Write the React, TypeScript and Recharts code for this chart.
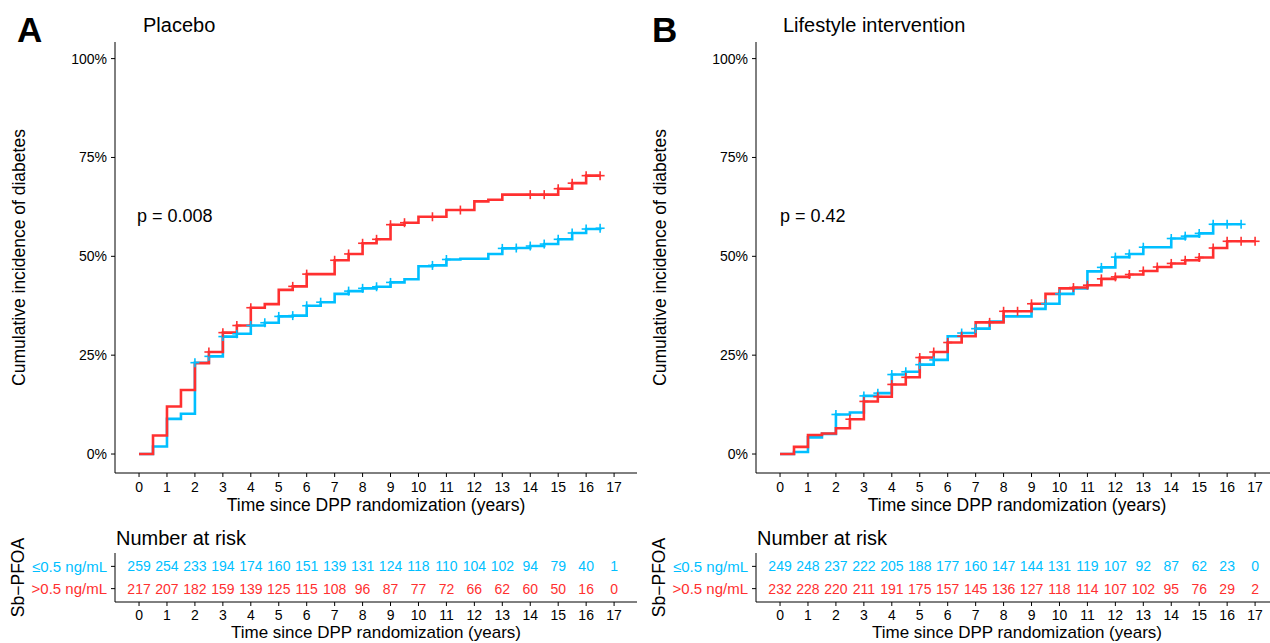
import React from "react";
import { ComposedChart, ScatterChart, Line, Scatter, XAxis, YAxis } from "recharts";

// step times (years) of the KM curves
const stepYears = [
  0, 0.5, 1, 1.5, 2, 2.5, 3, 3.5, 4, 4.5, 5, 5.5, 6, 6.5, 7, 7.5, 8, 8.5,
  9, 9.5, 10, 10.5, 11, 11.5, 12, 12.5, 13, 13.5, 14, 14.5, 15, 15.5, 16, 16.5, 17,
];
const yearTicks = [0, 1, 2, 3, 4, 5, 6, 7, 8, 9, 10, 11, 12, 13, 14, 15, 16, 17];
const pctTicks = [0, 25, 50, 75, 100];
const groupLabels = ["≤0.5 ng/mL", ">0.5 ng/mL"];

// cumulative incidence (%) at each step time
const placeboLow = [
  0, 1.9, 8.9, 10.2, 23.1, 24.7, 29.7, 30.4, 32.5, 33.2, 34.8, 35.0, 37.5, 38.4, 40.5, 41.2, 41.9,
  42.3, 43.4, 44.2, 47.5, 47.7, 49.2, 49.4, 49.4, 50.6, 52.0, 52.1, 52.6, 53.1, 54.3, 55.9, 56.9, 57.1,
];
const placeboHigh = [
  0, 4.7, 12.0, 16.2, 23.0, 25.8, 30.7, 32.5, 37.0, 37.9, 41.5, 42.4, 45.5, 45.5, 49.0, 50.6, 53.3,
  54.3, 58.0, 58.5, 60.0, 60.0, 61.7, 61.7, 63.9, 64.3, 65.6, 65.6, 65.6, 65.6, 67.1, 68.5, 70.4, 70.4,
];
const lifestyleLow = [
  0, 0.5, 4.2, 5.1, 10.0, 10.5, 14.7, 15.4, 20.1, 20.8, 22.6, 23.8, 29.8, 30.6, 31.7, 33.5, 34.8,
  34.8, 36.7, 38.0, 40.5, 41.9, 46.2, 47.2, 49.8, 50.6, 52.3, 52.3, 54.5, 55.1, 55.8, 58.1, 58.1, 58.1,
];
const lifestyleHigh = [
  0, 1.8, 4.8, 5.2, 6.5, 8.8, 13.3, 14.5, 17.6, 19.4, 24.4, 25.8, 28.2, 29.8, 33.3, 33.3, 36.1,
  36.1, 38.0, 40.5, 41.9, 42.1, 42.7, 44.3, 44.8, 45.4, 46.3, 47.3, 48.2, 49.0, 49.7, 52.1, 53.8,
  53.8, 53.8,
];

// censoring marks (years)
const placeboLowCensor = [2, 2.5, 3, 3.5, 4, 4.5, 5, 5.5, 6, 6.5, 7.5, 8, 8.5, 9, 10.5, 11, 13, 13.5, 14, 14.5, 15, 15.5, 16, 16.5];
const placeboHighCensor = [2.5, 3, 3.5, 4, 5.5, 6, 7, 7.5, 8, 8.5, 9, 9.5, 10.5, 11.5, 14, 14.5, 15, 15.5, 16, 16.5];
const lifestyleLowCensor = [2, 3, 3.5, 4, 4.5, 5, 5.5, 6.5, 7, 9.5, 10, 11.5, 12, 12.5, 13, 14, 14.5, 15, 15.5, 16, 16.5];
const lifestyleHighCensor = [2.5, 3, 3.5, 4, 4.5, 5, 5.5, 6, 6.5, 7.5, 8, 8.5, 9, 10.5, 11, 11.5, 12, 12.5, 13, 13.5, 14, 14.5, 15, 15.5, 16, 16.5, 17];

// number at risk
const placeboLowRisk = [259, 254, 233, 194, 174, 160, 151, 139, 131, 124, 118, 110, 104, 102, 94, 79, 40, 1];
const placeboHighRisk = [217, 207, 182, 159, 139, 125, 115, 108, 96, 87, 77, 72, 66, 62, 60, 50, 16, 0];
const lifestyleLowRisk = [249, 248, 237, 222, 205, 188, 177, 160, 147, 144, 131, 119, 107, 92, 87, 62, 23, 0];
const lifestyleHighRisk = [232, 228, 220, 211, 191, 175, 157, 145, 136, 127, 118, 114, 107, 102, 95, 76, 29, 2];

const BLUE = "#00BFFF";
const RED = "#FF3030";
const FONT = "'Liberation Sans', Arial, Helvetica, sans-serif";
const X_DOMAIN = [-0.86, 17.82];

const toSteps = (vals: number[]) => vals.map((v, i) => ({ t: stepYears[i], v }));
const toCensor = (times: number[], vals: number[]) =>
  times.map((t) => ({ t, v: vals[stepYears.indexOf(t)] }));
const toRisk = (counts: number[], row: number) => counts.map((n, i) => ({ t: yearTicks[i], row, n }));

const PlusMark = ({ cx, cy, color }: any) => (
  <g stroke={color} strokeWidth={1.6}>
    <line x1={cx - 4.5} x2={cx + 4.5} y1={cy} y2={cy} />
    <line x1={cx} x2={cx} y1={cy - 4.5} y2={cy + 4.5} />
  </g>
);

const renderRowTick = ({ x, y, payload }: any) => {
  const isLow = payload.value === 2;
  return (
    <text x={x} y={y} dy="0.36em" textAnchor="end" style={{ fontSize: 15 }} fill={isLow ? BLUE : RED}>
      {isLow ? groupLabels[0] : groupLabels[1]}
    </text>
  );
};

function KMPanel({ left, low, high, lowCensor, highCensor }: any) {
  return (
    <div style={{ position: "absolute", left, top: 0 }}>
      <ComposedChart width={645} height={525} margin={{ top: 42, right: 8, bottom: 0, left: 0 }}>
        <XAxis
          type="number"
          dataKey="t"
          domain={X_DOMAIN}
          allowDataOverflow
          ticks={yearTicks}
          interval={0}
          height={52}
          tickSize={4}
          tickMargin={5}
          stroke="#000"
          tick={{ fill: "#000", fontSize: 14 }}
          label={{ value: "Time since DPP randomization (years)", position: "insideBottom", offset: 14, fill: "#000", fontSize: 17.5 }}
        />
        <YAxis
          type="number"
          domain={[-4.8, 104.2]}
          allowDataOverflow
          ticks={pctTicks}
          interval={0}
          tickFormatter={(v: number) => `${v}%`}
          width={115}
          tickSize={4}
          tickMargin={4}
          stroke="#000"
          tick={{ fill: "#000", fontSize: 14 }}
          label={{ value: "Cumulative incidence of diabetes", angle: -90, position: "insideLeft", offset: 19, fill: "#000", fontSize: 17.5, style: { textAnchor: "middle" } }}
        />
        <Line data={toSteps(low)} dataKey="v" type="stepAfter" stroke={BLUE} strokeWidth={2.6} dot={false} isAnimationActive={false} />
        <Scatter data={toCensor(lowCensor, low)} dataKey="v" fill={BLUE} isAnimationActive={false}
          shape={(p: any) => <PlusMark cx={p.cx} cy={p.cy} color={BLUE} />} />
        <Line data={toSteps(high)} dataKey="v" type="stepAfter" stroke={RED} strokeWidth={2.6} dot={false} isAnimationActive={false} />
        <Scatter data={toCensor(highCensor, high)} dataKey="v" fill={RED} isAnimationActive={false}
          shape={(p: any) => <PlusMark cx={p.cx} cy={p.cy} color={RED} />} />
      </ComposedChart>
    </div>
  );
}

function RiskPanel({ left, low, high }: any) {
  return (
    <div style={{ position: "absolute", left, top: 520 }}>
      <ScatterChart width={645} height={123} margin={{ top: 33, right: 8, bottom: 0, left: 0 }}>
        <XAxis
          type="number"
          dataKey="t"
          domain={X_DOMAIN}
          allowDataOverflow
          ticks={yearTicks}
          interval={0}
          height={41}
          tickSize={4}
          tickMargin={4}
          stroke="#000"
          tick={{ fill: "#000", fontSize: 14 }}
          label={{ value: "Time since DPP randomization (years)", position: "insideBottom", offset: 5, fill: "#000", fontSize: 17 }}
        />
        <YAxis
          type="number"
          dataKey="row"
          domain={[0.4, 2.6]}
          allowDataOverflow
          ticks={[1, 2]}
          interval={0}
          width={115}
          tickSize={4}
          tickMargin={4}
          stroke="#000"
          tick={renderRowTick}
          label={{ value: "Sb−PFOA", angle: -90, position: "insideLeft", offset: 18, fill: "#000", fontSize: 17.5, style: { textAnchor: "middle" } }}
        />
        <Scatter data={toRisk(low, 2)} fill={BLUE} isAnimationActive={false}
          shape={(p: any) => (
            <text x={p.cx} y={p.cy} dy="0.36em" textAnchor="middle" fontSize={14} fill={BLUE}>{p.payload.n}</text>
          )} />
        <Scatter data={toRisk(high, 1)} fill={RED} isAnimationActive={false}
          shape={(p: any) => (
            <text x={p.cx} y={p.cy} dy="0.36em" textAnchor="middle" fontSize={14} fill={RED}>{p.payload.n}</text>
          )} />
      </ScatterChart>
    </div>
  );
}

export default function App() {
  return (
    <div style={{ position: "absolute", left: 0, top: 0, width: 1270, height: 643, overflow: "hidden", background: "#fff", fontFamily: FONT }}>
      <KMPanel left={0} low={placeboLow} high={placeboHigh} lowCensor={placeboLowCensor} highCensor={placeboHighCensor} />
      <KMPanel left={641} low={lifestyleLow} high={lifestyleHigh} lowCensor={lifestyleLowCensor} highCensor={lifestyleHighCensor} />
      <RiskPanel left={0} low={placeboLowRisk} high={placeboHighRisk} />
      <RiskPanel left={641} low={lifestyleLowRisk} high={lifestyleHighRisk} />
      <svg width={1270} height={643} style={{ position: "absolute", left: 0, top: 0, pointerEvents: "none" }}>
        <text x={17} y={42} fontSize={35} fontWeight="bold" fill="#000">A</text>
        <text x={143} y={32} fontSize={20} fill="#000">Placebo</text>
        <text x={137} y={221.5} fontSize={18} fill="#000">p = 0.008</text>
        <text x={116} y={544.5} fontSize={20} fill="#000">Number at risk</text>
        <text x={652} y={42} fontSize={35} fontWeight="bold" fill="#000">B</text>
        <text x={783} y={32} fontSize={20} fill="#000">Lifestyle intervention</text>
        <text x={780} y={221.5} fontSize={18} fill="#000">p = 0.42</text>
        <text x={757} y={544.5} fontSize={20} fill="#000">Number at risk</text>
      </svg>
    </div>
  );
}
